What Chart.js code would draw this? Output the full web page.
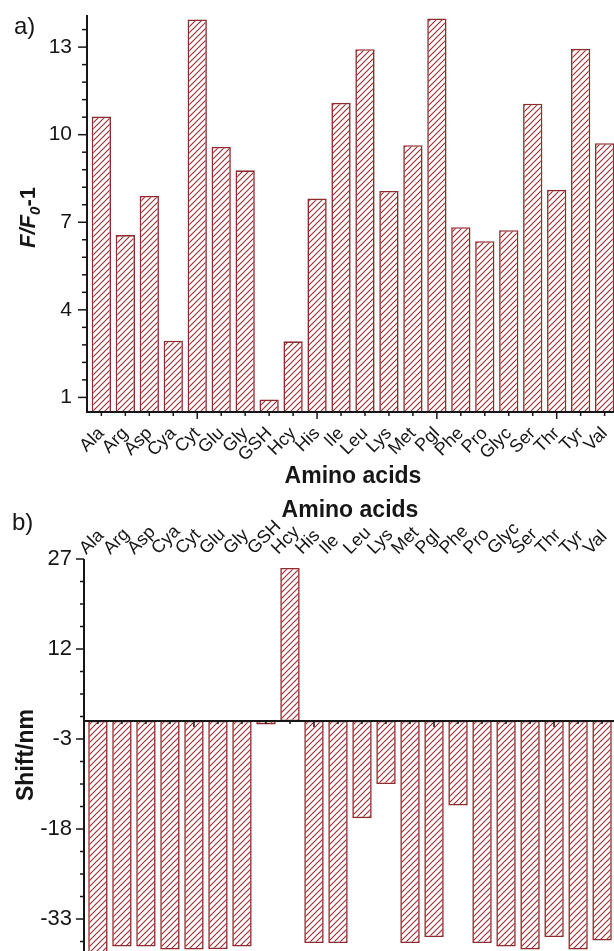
<!DOCTYPE html>
<html>
<head>
<meta charset="utf-8">
<script src="https://cdn.jsdelivr.net/npm/chart.js@4.4.1/dist/chart.umd.min.js"></script>
<style>
  html, body { margin: 0; padding: 0; background: #fff; overflow: hidden; }
  body { width: 614px; height: 951px; position: relative; }
  canvas { position: absolute; left: 0; display: block; }
  #chartA { top: 0; }
  #chartB { top: 490px; }
</style>
</head>
<body>
<canvas id="chartA" width="619" height="490"></canvas>
<canvas id="chartB" width="616" height="461"></canvas>
<script>
// Amino acids tested (x categories, shared by both panels)
const aminoAcids = ['Ala','Arg','Asp','Cya','Cyt','Glu','Gly','GSH','Hcy','His','Ile',
                    'Leu','Lys','Met','Pgl','Phe','Pro','Glyc','Ser','Thr','Tyr','Val'];

// Panel a: fluorescence enhancement F/F0-1
const fluorescenceRatio = [10.62, 6.56, 7.90, 2.94, 13.95, 9.58, 8.78, 0.93, 2.92, 7.81, 11.09,
                           12.93, 8.07, 9.64, 13.98, 6.83, 6.35, 6.73, 11.06, 8.11, 12.94, 9.71];

// Panel b: emission wavelength shift (nm)
const wavelengthShift = [-38.6, -37.6, -37.6, -38.1, -38.1, -38.0, -37.6, -0.6, 25.5, -37.0, -37.0,
                         -16.2, -10.5, -37.0, -36.0, -14.1, -37.0, -37.6, -38.1, -36.0, -38.1, -36.6];

// Labelled (major) ticks of the value axes
const ratioMajorTicks = [1, 4, 7, 10, 13];
const shiftMajorTicks = [27, 12, -3, -18, -33];

const FONT = '"Liberation Sans", Arial, Helvetica, sans-serif';
const INK = '#161616';
const BAR_RED = '#8e2b2e';
const HATCH_RED = '#9b3033';

// tick values anchor + k*step that lie inside [lo, hi]
function tickValues(lo, hi, anchor, step) {
  const out = [];
  const kMin = Math.ceil((lo - anchor) / step - 1e-9);
  const kMax = Math.floor((hi - anchor) / step + 1e-9);
  for (let k = kMin; k <= kMax; k++) out.push(+(anchor + k * step).toFixed(6));
  return out;
}
const isMajor = (v, majors) => majors.some(m => Math.abs(m - v) < 1e-6);

// diagonal "/" hatch used to fill the bars
function hatchPattern(ctx, color) {
  const s = 6;
  const c = document.createElement('canvas');
  c.width = s; c.height = s;
  const g = c.getContext('2d');
  g.fillStyle = '#fff';
  g.fillRect(0, 0, s, s);
  g.strokeStyle = color;
  g.lineWidth = 1.15;
  g.beginPath();
  g.moveTo(0, s); g.lineTo(s, 0);
  g.moveTo(-1, 1); g.lineTo(1, -1);
  g.moveTo(s - 1, s + 1); g.lineTo(s + 1, s - 1);
  g.stroke();
  return ctx.createPattern(c, 'repeat');
}

// axis lines, major/minor tick marks, panel letter and custom y title
const axisDecor = {
  id: 'axisDecor',
  afterDatasetsDraw(chart, _args, o) {
    const { ctx, chartArea: a, scales: { x, y } } = chart;
    ctx.save();
    ctx.strokeStyle = INK;
    ctx.lineWidth = 1.5;
    y.ticks.forEach(t => {
      const py = y.getPixelForValue(t.value);
      const len = isMajor(t.value, o.yMajors) ? o.yMajorLen : o.yMinorLen;
      ctx.beginPath(); ctx.moveTo(a.left - len, py); ctx.lineTo(a.left, py); ctx.stroke();
    });
    const baseY = o.xAtZero ? y.getPixelForValue(0) : a.bottom;
    x.ticks.forEach(t => {
      const px = x.getPixelForValue(t.value);
      const len = (t.value + 1) % 5 === 0 ? o.xMajorLen : o.xMinorLen;
      ctx.beginPath(); ctx.moveTo(px, baseY); ctx.lineTo(px, baseY + len); ctx.stroke();
    });
    ctx.lineWidth = 2;
    ctx.beginPath(); ctx.moveTo(a.left, a.top); ctx.lineTo(a.left, a.bottom + 1); ctx.stroke();
    ctx.beginPath(); ctx.moveTo(a.left - 1, baseY); ctx.lineTo(a.right, baseY); ctx.stroke();

    // panel letter
    ctx.fillStyle = INK;
    ctx.font = '24px ' + FONT;
    ctx.textAlign = 'left';
    ctx.textBaseline = 'alphabetic';
    ctx.fillText(o.panel, o.panelX, o.panelY);

    // y title with subscript (panel a)
    if (o.ratioTitle) {
      const parts = [
        { t: 'F/F', f: 'italic bold 22px ' + FONT, dy: 0 },
        { t: '0', f: 'italic bold 15px ' + FONT, dy: 5 },
        { t: '-1', f: 'bold 22px ' + FONT, dy: 0 }
      ];
      let total = 0;
      parts.forEach(p => { ctx.font = p.f; p.w = ctx.measureText(p.t).width; total += p.w; });
      ctx.translate(o.ratioTitle.x, (a.top + a.bottom) / 2 + o.ratioTitle.dy);
      ctx.rotate(-Math.PI / 2);
      let cx = -total / 2;
      parts.forEach(p => {
        ctx.font = p.f;
        ctx.fillText(p.t, cx, 8 + p.dy);
        cx += p.w;
      });
    }
    ctx.restore();
  }
};

function categoryAxis(extra) {
  return Object.assign({
    type: 'linear',
    min: -0.6,
    max: 21.6,
    offset: false,
    afterBuildTicks: s => { s.ticks = aminoAcids.map((_, i) => ({ value: i })); },
    border: { display: false }
  }, extra);
}

function valueAxis(lo, hi, anchor, step, extra) {
  const vals = tickValues(lo, hi, anchor, step);
  return Object.assign({
    min: lo,
    max: hi,
    afterBuildTicks: s => { s.ticks = vals.map(v => ({ value: v })); },
    border: { display: false }
  }, extra);
}

const ctxA = document.getElementById('chartA').getContext('2d');
const ctxB = document.getElementById('chartB').getContext('2d');

// ---- panel a: F/F0-1 ----
new Chart(ctxA, {
  type: 'bar',
  data: {
    datasets: [{
      data: aminoAcids.map((_, i) => ({ x: i, y: fluorescenceRatio[i] })),
      backgroundColor: hatchPattern(ctxA, HATCH_RED),
      borderColor: BAR_RED,
      borderWidth: 1.6,
      borderSkipped: false,
      barPercentage: 0.805,
      categoryPercentage: 1
    }]
  },
  options: {
    responsive: false,
    animation: false,
    layout: { padding: { top: 15, left: 0, right: 0, bottom: 0 } },
    plugins: {
      legend: { display: false },
      tooltip: { enabled: false },
      axisDecor: {
        panel: 'a)', panelX: 14, panelY: 34,
        yMajors: ratioMajorTicks, yMajorLen: 9, yMinorLen: 5,
        xMajorLen: 7, xMinorLen: 4, xAtZero: false,
        ratioTitle: { x: 27, dy: 4 }
      }
    },
    scales: {
      x: categoryAxis({
        position: 'bottom',
        grid: { drawOnChartArea: false, color: 'transparent', tickColor: 'transparent', offset: false, tickLength: 7 },
        ticks: {
          autoSkip: false, minRotation: 45, maxRotation: 45, padding: 4,
          color: INK, font: { family: FONT, size: 18 },
          callback: v => aminoAcids[v] ?? ''
        },
        title: { display: true, text: 'Amino acids', color: INK,
                 font: { family: FONT, size: 23, weight: 'bold' }, padding: { top: 0, bottom: 0 } },
        afterFit: s => { s.height = 78; s.paddingLeft = 0; s.paddingRight = 0; }
      }),
      y: valueAxis(0.5, 14.1, 1, 0.6, {
        grid: { drawOnChartArea: false, color: 'transparent', tickColor: 'transparent', tickLength: 9 },
        ticks: {
          autoSkip: false, color: INK, padding: 6, font: { family: FONT, size: 21 },
          callback: v => isMajor(v, ratioMajorTicks) ? String(Math.round(v)) : ''
        },
        afterFit: s => { s.width = 87; s.paddingTop = 0; s.paddingBottom = 0; }
      })
    }
  },
  plugins: [axisDecor]
});

// ---- panel b: wavelength shift ----
new Chart(ctxB, {
  type: 'bar',
  data: {
    datasets: [{
      data: aminoAcids.map((_, i) => ({ x: i, y: wavelengthShift[i] })),
      backgroundColor: hatchPattern(ctxB, HATCH_RED),
      borderColor: BAR_RED,
      borderWidth: 1.6,
      borderSkipped: false,
      barPercentage: 0.81,
      categoryPercentage: 1
    }]
  },
  options: {
    responsive: false,
    animation: false,
    layout: { padding: { top: 0, left: 0, right: 0, bottom: 0 } },
    plugins: {
      legend: { display: false },
      tooltip: { enabled: false },
      axisDecor: {
        panel: 'b)', panelX: 12, panelY: 40,
        yMajors: shiftMajorTicks, yMajorLen: 8, yMinorLen: 4,
        xMajorLen: 6, xMinorLen: 3, xAtZero: true
      }
    },
    scales: {
      x: categoryAxis({
        position: 'top',
        min: -0.58,
        max: 21.58,
        grid: { drawOnChartArea: false, drawTicks: false, color: 'transparent', tickColor: 'transparent', offset: false },
        ticks: {
          autoSkip: false, minRotation: 45, maxRotation: 45, padding: 0,
          color: INK, font: { family: FONT, size: 18 },
          callback: v => aminoAcids[v] ?? ''
        },
        title: { display: true, text: 'Amino acids', color: INK,
                 font: { family: FONT, size: 23, weight: 'bold' }, padding: { top: 7, bottom: 0 } },
        afterFit: s => { s.height = 69; s.paddingLeft = 0; s.paddingRight = 0; }
      }),
      y: valueAxis(-38.33, 27, -33, 3.75, {
        grid: { drawOnChartArea: false, color: 'transparent', tickColor: 'transparent', tickLength: 8 },
        ticks: {
          autoSkip: false, color: INK, padding: 4, font: { family: FONT, size: 22 },
          callback: v => isMajor(v, shiftMajorTicks) ? String(Math.round(v)) : ''
        },
        title: { display: true, text: 'Shift/nm', color: INK,
                 font: { family: FONT, size: 23, weight: 'bold' }, padding: { top: 13, bottom: 0 } },
        afterFit: s => { s.width = 84; s.paddingTop = 0; s.paddingBottom = 0; }
      })
    }
  },
  plugins: [axisDecor]
});
</script>
</body>
</html>
